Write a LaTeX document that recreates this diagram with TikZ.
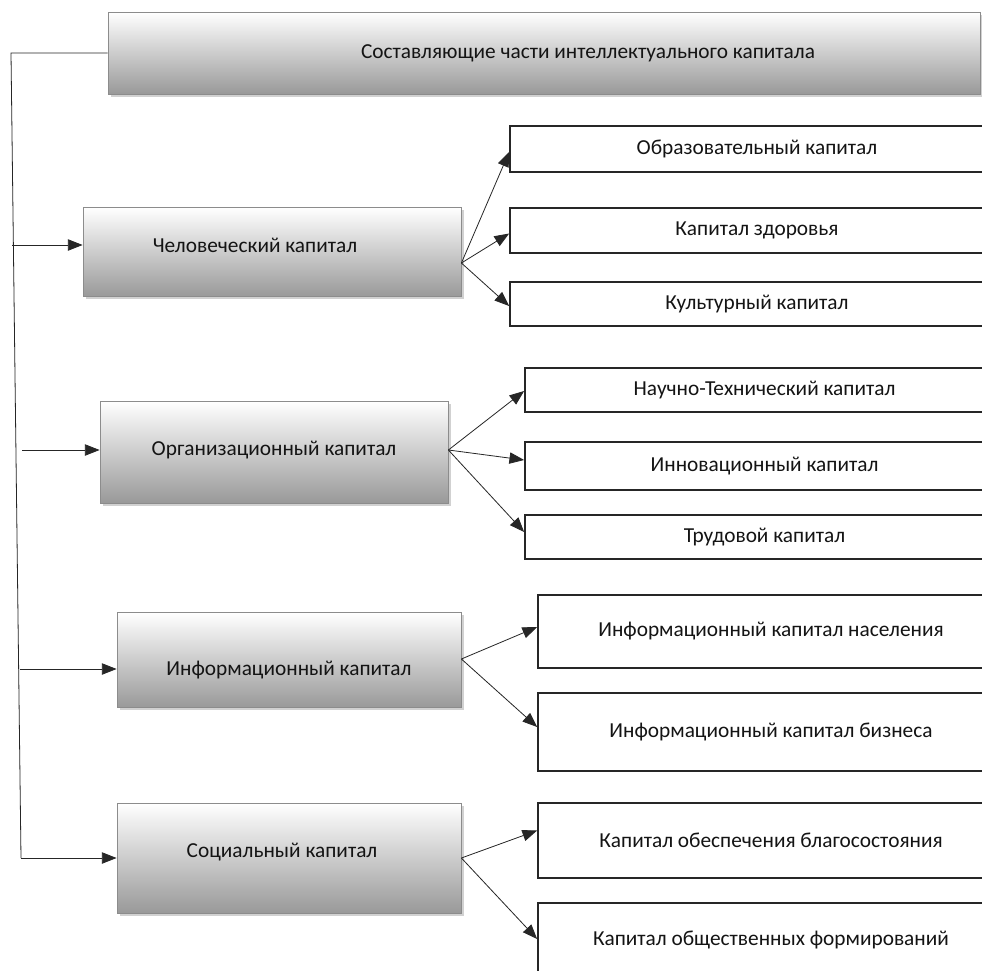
\documentclass[tikz,border=0pt]{standalone}
\usepackage{fontspec}
\setmainfont{Carlito}
\usetikzlibrary{arrows.meta}
\usetikzlibrary{shadows}
\usetikzlibrary{calc}
\usetikzlibrary{math}
\tikzstyle{gbox} = [rectangle, inner sep=0pt, draw=black!45, line width=0.6pt, top color=white, bottom color=black!40, drop shadow={shadow xshift=2pt, shadow yshift=-2pt, fill=black!40, opacity=0.45}]
\tikzstyle{rbox} = [rectangle, inner sep=0pt, draw=black!85, line width=1.3pt, fill=white]
\tikzstyle{link} = [-{Triangle[length=11pt, width=8.5pt]}, line width=0.6pt, draw=black!85]
\tikzstyle{trunk} = [line width=0.6pt, draw=black!85]
\tikzset{boxwh/.style 2 args={minimum width=(#1)*0.75pt, minimum height=(#2)*0.75pt}}

\begin{document}
\begin{tikzpicture}[x=0.75pt, y=-0.75pt, font=\fontsize{16}{19}\selectfont, text=black!92]

  \tikzmath{\rr = 1004; \hx = 510; \ox = 525; \ix = 538;}

  \path[use as bounding box, fill=white] (0,0) rectangle (982,971);

  % Level 1
  \node[gbox, boxwh={872}{82}, label={[xshift=33pt]center:Составляющие части интеллектуального капитала}] (top) at (544,53) {};

  % Level 2
  \node[gbox, boxwh={378}{89}, label={[xshift=-12.75pt, yshift=5.25pt]center:Человеческий капитал}] (hum) at (272,252) {};
  \node[gbox, boxwh={348}{102}, label={[yshift=1.5pt]center:Организационный капитал}] (org) at (274,452) {};
  \node[gbox, boxwh={344}{95}, label={[yshift=-7.5pt]center:Информационный капитал}] (inf) at (289,660) {};
  \node[gbox, boxwh={344}{110}, label={[xshift=-5.25pt, yshift=4.5pt]center:Социальный капитал}] (soc) at (289,858) {};

  % Level 3
  \node[rbox, boxwh={\rr-\hx}{46}] (h1) at ({(\hx+\rr)/2},149) {Образовательный капитал};
  \node[rbox, boxwh={\rr-\hx}{45}] (h2) at ({(\hx+\rr)/2},230.5) {Капитал здоровья};
  \node[rbox, boxwh={\rr-\hx}{44}] (h3) at ({(\hx+\rr)/2},304) {Культурный капитал};

  \node[rbox, boxwh={\rr-\ox}{44}] (o1) at ({(\ox+\rr)/2},390) {Научно-Технический капитал};
  \node[rbox, boxwh={\rr-\ox}{48}] (o2) at ({(\ox+\rr)/2},466) {Инновационный капитал};
  \node[rbox, boxwh={\rr-\ox}{44}] (o3) at ({(\ox+\rr)/2},537) {Трудовой капитал};

  \node[rbox, boxwh={\rr-\ix}{73}] (i1) at ({(\ix+\rr)/2},631.5) {Информационный капитал населения};
  \node[rbox, boxwh={\rr-\ix}{78}] (i2) at ({(\ix+\rr)/2},732) {Информационный капитал бизнеса};

  \node[rbox, boxwh={\rr-\ix}{75}] (s1) at ({(\ix+\rr)/2},840.5) {Капитал обеспечения благосостояния};
  \node[rbox, boxwh={\rr-\ix}{74}] (s2) at ({(\ix+\rr)/2},940) {Капитал общественных формирований};

  % trunk on the left
  \coordinate (t0) at (11,53);
  \coordinate (t1) at (21,858);
  \draw[trunk] (top.west) -- (t0) -- (t1);
  \draw[link] (t1) -- (soc.west);

  \coordinate (th) at (12,245);
  \coordinate (to) at (22,450);
  \coordinate (ti) at (20,669);
  \draw[link] (th) -- (th -| hum.west);
  \draw[link] (to) -- (to -| org.west);
  \draw[link] (ti) -- (ti -| inf.west);

  % fan out to the right
  \coordinate (hs) at ($(hum.east)+(0,11)$);
  \foreach \t/\d in {h1/3, h2/3, h3/2} {
    \draw[link] (hs) -- ($(\t.west)+(0,\d)$);
  }
  \coordinate (os) at ($(org.east)+(0,-2)$);
  \foreach \t/\d in {o1/1, o2/-6, o3/-5} {
    \draw[link] (os) -- ($(\t.west)+(0,\d)$);
  }
  \coordinate (is) at ($(inf.east)+(0,-1)$);
  \foreach \t/\d in {i1/-4.5, i2/-5} {
    \draw[link] (is) -- ($(\t.west)+(0,\d)$);
  }
  \foreach \t/\d in {s1/-10, s2/-1} {
    \draw[link] (soc.east) -- ($(\t.west)+(0,\d)$);
  }

\end{tikzpicture}
\end{document}
